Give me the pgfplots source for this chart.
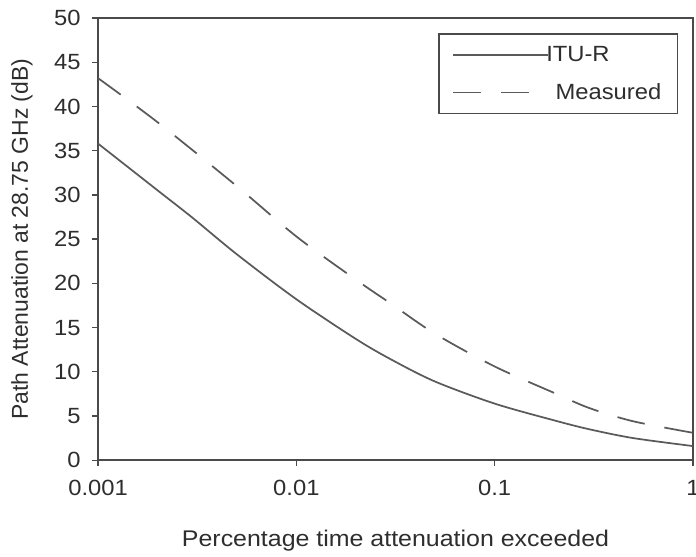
\documentclass[border=0pt]{standalone}
\usepackage{pgfplots}
\pgfplotsset{compat=1.18}
\usepackage{graphicx}
\usepackage{fontspec}
\setmainfont{Liberation Sans}
\definecolor{axgray}{HTML}{4A4A4A}
\definecolor{lngray}{HTML}{5A5A5A}
\definecolor{txtgray}{HTML}{2E2E2E}
\newcommand\hs[1]{\scalebox{1.08}[1]{#1}}
\newcommand\hx[1]{\scalebox{1.10}[1]{#1}}
\begin{document}
\begin{tikzpicture}
\begin{axis}[
  name=ax,
  width=446pt, height=331.5pt,
  scale only axis,
  xmode=log,
  xmin=0.001, xmax=1,
  ymin=0, ymax=50,
  ytick={0,5,...,50},
  xtick={0.001,0.01,0.1,1},
  xticklabels={\hs{0.001},\hs{0.01},\hs{0.1},\hs{1}},
  yticklabel={\hs{\pgfmathprintnumber{\tick}}},
  xminorticks=false,
  /pgf/number format/assume math mode=true,
  tick label style={font=\fontsize{16.5}{18}\selectfont, text=txtgray},
  yticklabel style={xshift=-5pt},
  xticklabel style={yshift=-7pt},
  xlabel={\hx{Percentage time attenuation exceeded}},
  ylabel={Path Attenuation at 28.75 GHz (dB)},
  xlabel style={font=\fontsize{17}{19}\selectfont, text=txtgray, at={(axis description cs:0.5,-0.181)}, anchor=center},
  ylabel style={font=\fontsize{17.2}{19}\selectfont, text=txtgray, at={(axis description cs:-0.128,0.5)}, anchor=center, rotate=0},
  axis line style={axgray, line width=1.4pt},
  tick style={axgray, line width=1pt},
  tick align=outside,
  major tick length=4.5pt,
  xtick pos=bottom, ytick pos=left,
  legend style={at={(0.975,0.965)}, anchor=north east, draw=axgray, line width=1.2pt,
    font=\fontsize{16.5}{18}\selectfont, text=txtgray, row sep=11pt,
    inner xsep=10pt, inner ysep=7pt, cells={anchor=west}},
  legend image code/.code={\draw[#1, line width=1.3pt] (0pt,0pt) -- (71pt,0pt);},
]
\addplot[lngray, line width=1.3pt, smooth] coordinates {
 (0.001,35.8) (0.002,30.5) (0.003,27.4) (0.005,23.3) (0.01,18.2) (0.02,13.7)
 (0.03,11.4) (0.05,8.9) (0.1,6.4) (0.2,4.5) (0.3,3.5) (0.5,2.5) (1,1.6)};
\addlegendentry{\hspace{-4pt}\hs{ITU-R}}
\addplot[lngray, line width=1.3pt, smooth, dash pattern=on 21pt off 15pt] coordinates {
 (0.001,43.2) (0.002,38.2) (0.005,31.0) (0.01,25.3) (0.02,20.4) (0.03,17.7)
 (0.05,14.3) (0.1,10.6) (0.2,7.6) (0.3,5.9) (0.5,4.4) (1,3.1)};
\addlegendentry{\hspace{3pt}\hs{Measured}}
\end{axis}
\pgfresetboundingbox
\path[use as bounding box] ([xshift=-73.5pt,yshift=-72pt]ax.south west) rectangle ([xshift=2.25pt,yshift=13.5pt]ax.north east);
\end{tikzpicture}
\end{document}
